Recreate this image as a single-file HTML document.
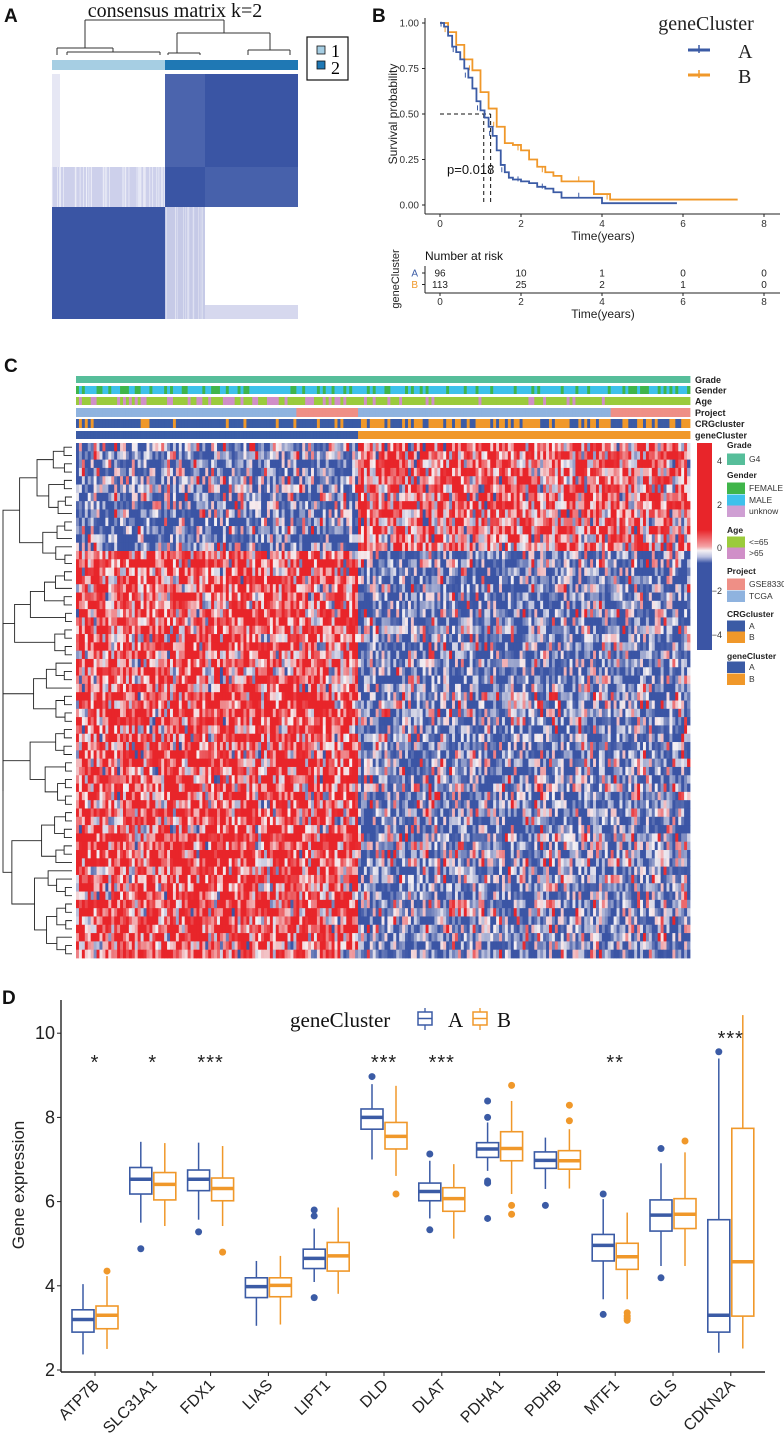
<!DOCTYPE html>
<html><head><meta charset="utf-8"><title>Figure</title>
<style>
html,body{margin:0;padding:0;background:#fff;}
svg{display:block;}
</style></head>
<body>
<svg id="fig" width="784" height="1445" viewBox="0 0 784 1445" xmlns="http://www.w3.org/2000/svg" font-family="Liberation Sans, sans-serif">
<defs>
<linearGradient id="hmgrad" x1="0" y1="0" x2="0" y2="1">
<stop offset="0" stop-color="#E8252A"/><stop offset="0.42" stop-color="#E8252A"/>
<stop offset="0.5" stop-color="#F4A3A6"/><stop offset="0.52" stop-color="#F5F0F3"/>
<stop offset="0.55" stop-color="#B9BFE0"/><stop offset="0.58" stop-color="#3B55A5"/><stop offset="1" stop-color="#3B55A5"/>
</linearGradient>
</defs>
</svg>
<script>
// ---------- DATA ----------
const survTimesA=[0,0.1,0.2,0.3,0.4,0.5,0.6,0.7,0.8,0.9,1.0,1.1,1.2,1.3,1.4,1.5,1.6,1.7,1.8,2.0,2.2,2.4,2.6,2.8,3.0,3.5,4.0,5.85];
const survProbA=[1,0.98,0.93,0.87,0.84,0.80,0.75,0.70,0.64,0.57,0.52,0.48,0.43,0.38,0.30,0.22,0.18,0.15,0.14,0.13,0.12,0.10,0.09,0.07,0.04,0.04,0.01,0.01];
const survTimesB=[0,0.2,0.4,0.6,0.8,1.0,1.2,1.4,1.6,1.8,2.0,2.2,2.4,2.6,2.8,3.0,3.5,3.8,4.0,4.2,7.35];
const survProbB=[1,0.95,0.88,0.80,0.74,0.62,0.53,0.43,0.34,0.33,0.30,0.25,0.21,0.18,0.16,0.13,0.13,0.06,0.06,0.03,0.03];
const survTicksX=[0,2,4,6,8];
const survTicksY=[0,0.25,0.5,0.75,1];
const riskA=[96,10,1,0,0];
const riskB=[113,25,2,1,0];
const medianA=1.08, medianB=1.25;
const genes=["ATP7B","SLC31A1","FDX1","LIAS","LIPT1","DLD","DLAT","PDHA1","PDHB","MTF1","GLS","CDKN2A"];
const lowA=[2.37,5.5,5.57,3.05,4.09,7.0,5.6,6.73,6.3,3.68,4.47,2.41];
const q1A=[2.9,6.18,6.26,3.72,4.41,7.72,6.02,7.05,6.79,4.59,5.3,2.9];
const medA=[3.2,6.53,6.53,3.98,4.65,8.0,6.24,7.25,6.98,4.96,5.68,3.3];
const q3A=[3.43,6.81,6.75,4.19,4.87,8.2,6.44,7.4,7.18,5.22,6.04,5.57];
const highA=[4.04,7.42,7.4,4.59,5.36,8.79,6.97,7.88,7.52,6.06,6.91,9.4];
const outA=[[],[4.88],[5.28],[],[5.8,5.66,3.72],[8.97],[7.13,5.33],[8.39,8.0,6.49,6.44,5.6],[5.91],[6.18,3.32],[7.26,4.19],[9.56]];
const lowB=[2.5,5.42,5.42,3.08,3.81,6.61,5.12,6.18,6.31,3.68,4.47,2.51];
const q1B=[2.98,6.04,6.02,3.74,4.35,7.25,5.77,6.97,6.77,4.39,5.36,3.28];
const medB=[3.3,6.41,6.31,4.01,4.71,7.55,6.07,7.26,6.97,4.69,5.7,4.57];
const q3B=[3.52,6.69,6.56,4.19,5.03,7.88,6.33,7.66,7.21,5.01,6.07,7.74];
const highB=[4.23,7.39,7.32,4.71,5.86,8.75,6.89,8.39,7.72,5.74,7.17,10.43];
const outB=[[4.35],[],[4.8],[],[],[6.18],[],[8.76,5.91,5.7],[8.29,7.92],[3.36,3.28,3.22,3.18],[7.44],[]];
const stars=["*","*","***","","","***","***","","","**","","***"];
const boxTicks=[2,4,6,8,10];
const nCols=209, nRows=62, nClusterA=96, nUpperRows=13;

// ---------- HELPERS ----------
const NS='http://www.w3.org/2000/svg';
const svg=document.getElementById('fig');
function mk(tag,attrs,parent){const e=document.createElementNS(NS,tag);for(const k in attrs)e.setAttribute(k,attrs[k]);(parent||svg).appendChild(e);return e;}
function txt(s,attrs,parent){const e=mk('text',attrs,parent);e.textContent=s;return e;}
function grp(name){const g=mk('g',{});return g;}
let seed=12345;
function rng(){seed|=0;seed=seed+0x6D2B79F5|0;let t=Math.imul(seed^seed>>>15,1|seed);t=t+Math.imul(t^t>>>7,61|t)^t;return((t^t>>>14)>>>0)/4294967296;}
const BLUE='#3B5BA5', ORANGE='#F0982A';

// ---------- PANEL LABELS ----------
[['A',4,22],['B',372,22],['C',4,372],['D',2,1004]].forEach(([l,x,y])=>{
  const t=txt(l,{x:x,y:y,'font-size':19,'font-weight':'bold',fill:'#111'});
  
  
});

// ---------- PANEL A ----------
(function(){
  const g=grp('consensus-matrix-panel');
  const t=txt('consensus matrix k=2',{x:175,y:17,'text-anchor':'middle','font-family':'Liberation Serif, serif','font-size':20,fill:'#111'},g);
  
  
  const dg=grp('consensus-dendrogram'); g.appendChild(dg);
  const segs=[[85,20,224,20],[85,20,85,48],[57,48,113,48],[57,48,57,55],[113,48,113,52],[67,52,160,52],[67,52,67,55],[160,52,160,55],
   [224,20,224,33],[177,33,270,33],[177,33,177,53],[168,53,200,53],[168,53,168,55],[200,53,200,55],[270,33,270,50],[248,50,290,50],[248,50,248,55],[290,50,290,55]];
  segs.forEach(s=>mk('line',{x1:s[0],y1:s[1],x2:s[2],y2:s[3],stroke:'#333','stroke-width':1},dg));
  const b1=mk('rect',{x:52,y:60,width:113,height:10,fill:'#A6CEE3'},g);
  
  
  const b2=mk('rect',{x:165,y:60,width:133,height:10,fill:'#1F78B4'},g);
  
  
  const D='#3A55A4';
  const blocks=[[52,74,113,93,'#FFFFFF'],[165,74,40,93,'#4B64AD'],[205,74,93,93,D],
    [52,167,113,40,'#CDD0EB'],[165,167,40,40,D],[205,167,93,40,'#4761AB'],
    [52,207,113,112,D],[165,207,40,112,'#C6CAE7'],[205,207,93,112,'#FFFFFF'],[205,305,93,14,'#D6D8EE'],[52,74,8,93,'#E6E7F4']];
  blocks.forEach((b,i)=>{const r=mk('rect',{x:b[0],y:b[1],width:b[2],height:b[3],fill:b[4]},g);
    
    });
  for(let i=0;i<40;i++){const x=52+rng()*113;mk('line',{x1:x,y1:167,x2:x,y2:207,stroke:'#F2F3FA','stroke-width':0.8,opacity:0.8},g);}
  for(let i=0;i<14;i++){const x=165+rng()*40;mk('line',{x1:x,y1:207,x2:x,y2:319,stroke:'#E4E6F4','stroke-width':0.8,opacity:0.8},g);}
  const lb=mk('rect',{x:307,y:37,width:41,height:43,fill:'#fff',stroke:'#111','stroke-width':1.2},g);
  
  
  mk('rect',{x:317,y:46,width:8,height:8,fill:'#A6CEE3',stroke:'#111','stroke-width':0.8},g);
  mk('rect',{x:317,y:61,width:8,height:8,fill:'#1F78B4',stroke:'#111','stroke-width':0.8},g);
  const l1=txt('1',{x:331,y:57,'font-family':'Liberation Serif, serif','font-size':18},g);
  
  
  const l2=txt('2',{x:331,y:74,'font-family':'Liberation Serif, serif','font-size':18},g);
  
  
})();

// ---------- PANEL B ----------
(function(){
  const g=grp('survival-panel');
  const X=t=>440+t*40.5, Y=p=>205-p*182;
  mk('line',{x1:425,y1:18,x2:425,y2:214,stroke:'#222','stroke-width':1},g);
  const xa=mk('line',{x1:425,y1:214,x2:780,y2:214,stroke:'#222','stroke-width':1},g);
  
  
  survTicksY.forEach(v=>{mk('line',{x1:422,y1:Y(v),x2:425,y2:Y(v),stroke:'#222'},g);
    const t=txt(v.toFixed(2),{x:419,y:Y(v)+3.5,'text-anchor':'end','font-size':10,fill:'#333'},g);
    
    });
  survTicksX.forEach(v=>{mk('line',{x1:X(v),y1:214,x2:X(v),y2:217,stroke:'#222'},g);
    const t=txt(String(v),{x:X(v),y:227,'text-anchor':'middle','font-size':10,fill:'#333'},g);
    
    });
  const xt=txt('Time(years)',{x:603,y:240,'text-anchor':'middle','font-size':12,fill:'#222'},g);
  
  
  const yt=txt('Survival probability',{x:0,y:0,'text-anchor':'middle','font-size':12,fill:'#222',transform:'translate(397,114) rotate(-90)'},g);
  
  
  mk('path',{d:`M${X(0)},${Y(0.5)}H${X(medianB)}M${X(medianA)},${Y(0.5)}V${Y(0)}M${X(medianB)},${Y(0.5)}V${Y(0)}`,stroke:'#111','stroke-width':1,'stroke-dasharray':'4,3',fill:'none'},g);
  function curve(ts,ps,col,name){
    let d=`M${X(ts[0])},${Y(ps[0])}`;
    for(let i=1;i<ts.length;i++){d+=`H${X(ts[i])}V${Y(ps[i])}`;}
    const p=mk('path',{d:d,stroke:col,'stroke-width':1.8,fill:'none'},g);
    
    
    for(let i=1;i<ts.length-1;i+=3){mk('line',{x1:X(ts[i])-3,y1:Y(ps[i]),x2:X(ts[i])-3,y2:Y(ps[i])-5,stroke:col,'stroke-width':1},g);}
  }
  curve(survTimesB,survProbB,ORANGE,'survival-curve-b');
  curve(survTimesA,survProbA,BLUE,'survival-curve-a');
  const pv=txt('p=0.018',{x:447,y:174,'font-size':13,fill:'#111'},g);
  
  
  const lt=txt('geneCluster',{x:706,y:30,'text-anchor':'middle','font-family':'Liberation Serif, serif','font-size':20,fill:'#222'},g);
  
  
  [['A',50,BLUE],['B',75,ORANGE]].forEach(([n,y,c])=>{
    mk('line',{x1:688,y1:y,x2:710,y2:y,stroke:c,'stroke-width':3},g);
    mk('line',{x1:699,y1:y-5,x2:699,y2:y+3,stroke:c,'stroke-width':1.5},g);
    const t=txt(n,{x:738,y:y+8,'font-family':'Liberation Serif, serif','font-size':20,fill:'#222'},g);
    
    
  });
  const nr=txt('Number at risk',{x:425,y:260,'font-size':12,fill:'#111'},g);
  
  
  mk('line',{x1:425,y1:266,x2:425,y2:293,stroke:'#222'},g);
  mk('line',{x1:425,y1:293,x2:780,y2:293,stroke:'#222'},g);
  const gc=txt('geneCluster',{x:0,y:0,'text-anchor':'middle','font-size':11,fill:'#222',transform:'translate(399,279) rotate(-90)'},g);
  
  
  [['A',273,BLUE,riskA],['B',284.5,ORANGE,riskB]].forEach(([n,y,c,arr])=>{
    txt(n,{x:418,y:y+3.5,'text-anchor':'end','font-size':10,fill:c},g);
    mk('line',{x1:422,y1:y,x2:425,y2:y,stroke:'#222'},g);
    arr.forEach((v,i)=>{const t=txt(String(v),{x:X(survTicksX[i]),y:y+3.5,'text-anchor':'middle','font-size':10,fill:'#222'},g);
      
      });
  });
  survTicksX.forEach(v=>{mk('line',{x1:X(v),y1:293,x2:X(v),y2:296,stroke:'#222'},g);
    txt(String(v),{x:X(v),y:305,'text-anchor':'middle','font-size':10,fill:'#333'},g);});
  const xt2=txt('Time(years)',{x:603,y:318,'text-anchor':'middle','font-size':12,fill:'#222'},g);
  
  
})();

// ---------- PANEL C ----------
(function(){
  const g=grp('heatmap-panel');
  const x0=76,w=614,cw=w/nCols,y0=443,h=515,rh=h/nRows;
  const splitX=x0+nClusterA*cw;
  const ann=[['Grade',376,7],['Gender',386,8],['Age',397,8],['Project',408,9],['CRGcluster',419,9],['geneCluster',431,8]];
  const ag=grp('annotation-bars'); g.appendChild(ag);
  for(let c=0;c<nCols;c++){
    const x=x0+c*cw, inA=c<nClusterA;
    const cols=[
      '#56BE9A',
      rng()<0.33?'#3FB54A':'#3EC1EB',
      (inA? rng()<0.4 : (c<180 && rng()<0.25))?'#D08FC8':'#9BCB3C',
      ((x>=295&&x<splitX)||x>=608)?'#EF8F86':'#8FB3DF',
      (inA? rng()<0.13 : rng()<0.62)?ORANGE:BLUE,
      inA?BLUE:ORANGE];
    ann.forEach((a,i)=>mk('rect',{x:x,y:a[1],width:cw+0.4,height:a[2],fill:cols[i]},ag));
  }
  ann.forEach(a=>{const t=txt(a[0],{x:695,y:a[1]+a[2]/2+3.5,'font-size':9,'font-weight':'bold',fill:'#222'},g);
    
    });
  const hg=grp('heatmap-cells'); g.appendChild(hg);
  function col(v){let t=Math.max(-1,Math.min(1,v/1.6));
    const W=[245,240,243],R=[232,37,42],B=[59,85,165];const T=t>0?R:B;const a=Math.abs(t);
    return `rgb(${Math.round(W[0]+(T[0]-W[0])*a)},${Math.round(W[1]+(T[1]-W[1])*a)},${Math.round(W[2]+(T[2]-W[2])*a)})`;}
  for(let r=0;r<nRows;r++){
    const up=r<nUpperRows; const rowShift=(rng()-0.5)*0.8;
    for(let c=0;c<nCols;c++){
      const inA=c<nClusterA;
      let m=up?(inA?-1.2:0.9):(inA?1.3:-1.0);
      m+=rowShift;
      const v=m+(rng()+rng()+rng()-1.5)*2.6;
      mk('rect',{x:x0+c*cw,y:y0+r*rh,width:cw+0.4,height:rh+0.4,fill:col(v)},hg);
    }
  }
  const dg=grp('row-dendrogram'); g.appendChild(dg);
  function tree(lo,hi){
    if(hi-lo===1) return {x:72,y:y0+(lo+0.5)*rh};
    let mid;
    if(lo===0&&hi===nRows) mid=nUpperRows+2;
    else mid=lo+Math.max(1,Math.min(hi-lo-1,Math.round((hi-lo)*(0.3+rng()*0.4))));
    const a=tree(lo,mid),b=tree(mid,hi);
    const size=hi-lo;
    const x=Math.max(3,Math.min(a.x,b.x)-(4+Math.pow(size,0.75)*2.2*(0.6+rng()*0.5)));
    const xx=(lo===0&&hi===nRows)?3:x;
    mk('path',{d:`M${a.x},${a.y}H${xx}V${b.y}H${b.x}`,stroke:'#222','stroke-width':0.9,fill:'none'},dg);
    return {x:xx,y:(a.y+b.y)/2};
  }
  tree(0,nRows);
  const cb=mk('rect',{x:697,y:443,width:15,height:207,fill:'url(#hmgrad)'},g);
  
  
  [['4',461],['2',505],['0',548],['\u22122',591],['\u22124',635]].forEach(([s,y])=>{
    const t=txt(s,{x:722,y:y+3,'text-anchor':'end','font-size':9,fill:'#333'},g);
    
    });
  const leg=[['t','Grade',445],['i','G4',459,'#56BE9A'],['t','Gender',475],['i','FEMALE',488,'#3FB54A'],['i','MALE',500,'#3EC1EB'],['i','unknow',511,'#CF9FD3'],
    ['t','Age',530],['i','<=65',542,'#9BCB3C'],['i','>65',553,'#D08FC8'],['t','Project',571],['i','GSE83300',584,'#EF8F86'],['i','TCGA',596,'#8FB3DF'],
    ['t','CRGcluster',614],['i','A',626,BLUE],['i','B',637,ORANGE],['t','geneCluster',656],['i','A',667,BLUE],['i','B',679,ORANGE]];
  leg.forEach(e=>{
    if(e[0]==='t'){const t=txt(e[1],{x:727,y:e[2]+3,'font-size':8.5,'font-weight':'bold',fill:'#222'},g);
      
      }
    else{mk('rect',{x:727,y:e[2]-5.5,width:18,height:11.5,fill:e[3]},g);
      const t=txt(e[1],{x:749,y:e[2]+3,'font-size':8.5,fill:'#333'},g);
      
      }
  });
})();

// ---------- PANEL D ----------
(function(){
  const g=grp('boxplot-panel');
  const Y=v=>1370-(v-2)*42.1, C=i=>95+i*57.8;
  const ya=mk('line',{x1:61,y1:1000,x2:61,y2:1372,stroke:'#222','stroke-width':1.4},g);
  
  
  const xa=mk('line',{x1:61,y1:1372,x2:765,y2:1372,stroke:'#222','stroke-width':1.4},g);
  
  
  boxTicks.forEach(v=>{mk('line',{x1:57,y1:Y(v),x2:61,y2:Y(v),stroke:'#222'},g);
    const t=txt(String(v),{x:55,y:Y(v)+6,'text-anchor':'end','font-size':18,fill:'#222'},g);
    
    });
  const yt=txt('Gene expression',{x:0,y:0,'text-anchor':'middle','font-size':17,fill:'#222',transform:'translate(24,1185) rotate(-90)'},g);
  
  
  function box(cx,lo,q1,md,q3,hi,outs,colr,name){
    const bg=grp(name); g.appendChild(bg);
    mk('line',{x1:cx,y1:Y(hi),x2:cx,y2:Y(q3),stroke:colr,'stroke-width':1.5},bg);
    mk('line',{x1:cx,y1:Y(q1),x2:cx,y2:Y(lo),stroke:colr,'stroke-width':1.5},bg);
    mk('rect',{x:cx-11,y:Y(q3),width:22,height:Y(q1)-Y(q3),fill:'#fff',stroke:colr,'stroke-width':1.6},bg);
    mk('line',{x1:cx-11,y1:Y(md),x2:cx+11,y2:Y(md),stroke:colr,'stroke-width':3.5},bg);
    outs.forEach(o=>mk('circle',{cx:cx,cy:Y(o),r:3.5,fill:colr},bg));
  }
  genes.forEach((gn,i)=>{
    const c=C(i);
    box(c-12,lowA[i],q1A[i],medA[i],q3A[i],highA[i],outA[i],BLUE,'box-'+gn.toLowerCase()+'-a');
    box(c+12,lowB[i],q1B[i],medB[i],q3B[i],highB[i],outB[i],ORANGE,'box-'+gn.toLowerCase()+'-b');
    mk('line',{x1:c,y1:1372,x2:c,y2:1376,stroke:'#222'},g);
    const t=txt(gn,{x:0,y:0,'text-anchor':'end','font-size':16,fill:'#222',transform:`translate(${c+5},${1386}) rotate(-45)`},g);
    
    
    if(stars[i]){const sy=gn==='CDKN2A'?1045:1069;
      const s=txt(stars[i],{x:c,y:sy,'text-anchor':'middle','font-size':20,'letter-spacing':1,fill:'#222'},g);
      
      }
  });
  const lt=txt('geneCluster',{x:290,y:1027,'font-family':'Liberation Serif, serif','font-size':21,fill:'#111'},g);
  
  
  [[425,'A',BLUE,448],[480,'B',ORANGE,497]].forEach(([x,n,c,tx])=>{
    mk('line',{x1:x,y1:1008,x2:x,y2:1030,stroke:c,'stroke-width':1.3},g);
    mk('rect',{x:x-7,y:1012,width:14,height:13,fill:'#fff',stroke:c,'stroke-width':1.5},g);
    mk('line',{x1:x-7,y1:1018.5,x2:x+7,y2:1018.5,stroke:c,'stroke-width':1.5},g);
    const t=txt(n,{x:tx,y:1027,'font-family':'Liberation Serif, serif','font-size':21,fill:'#111'},g);
    
    
  });
})();
</script>
</body></html>
